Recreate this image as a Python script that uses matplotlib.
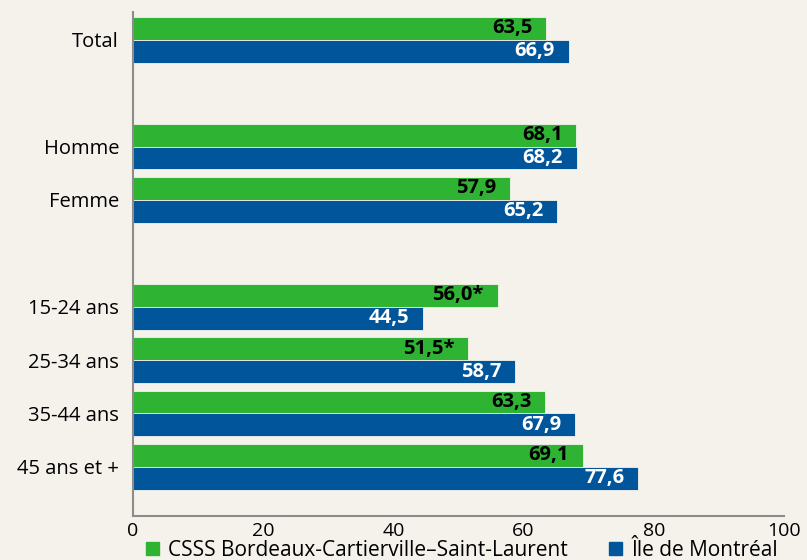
import numpy as np
import matplotlib.pyplot as plt
from matplotlib.patches import Patch

plt.rcParams['font.family'] = ['Open Sans', 'DejaVu Sans']

# data
categories = ['Total', '', 'Homme', 'Femme', '', '15-24 ans', '25-34 ans', '35-44 ans', '45 ans et +']
csss = [63.5, None, 68.1, 57.9, None, 56.0, 51.5, 63.3, 69.1]
mtl = [66.9, None, 68.2, 65.2, None, 44.5, 58.7, 67.9, 77.6]
csss_labels = ['63,5', '', '68,1', '57,9', '', '56,0*', '51,5*', '63,3', '69,1']
mtl_labels = ['66,9', '', '68,2', '65,2', '', '44,5', '58,7', '67,9', '77,6']
series_names = ['CSSS Bordeaux-Cartierville\u2013Saint-Laurent', '\u00cele de Montr\u00e9al']

bg = '#f5f2ec'
green = '#2eb432'
blue = '#00559b'

fig = plt.figure(figsize=(8.07, 5.6), dpi=100, facecolor=bg)
ax = fig.add_axes([133 / 807, 1 - 516 / 560, (784 - 133) / 807, (516 - 12) / 560])
ax.set_facecolor(bg)

y = np.arange(len(categories))
h = 0.43
for i in range(len(categories)):
    if csss[i] is None:
        continue
    b1 = ax.barh(y[i] - h / 2, csss[i], height=h, color=green, edgecolor=bg, linewidth=0.6)
    b2 = ax.barh(y[i] + h / 2, mtl[i], height=h, color=blue, edgecolor=bg, linewidth=0.6)
    ax.bar_label(b1, labels=[csss_labels[i]], label_type='edge', padding=-10, color='black',
                 fontsize=14.5, fontweight='bold')
    ax.bar_label(b2, labels=[mtl_labels[i]], label_type='edge', padding=-10, color='white',
                 fontsize=14.5, fontweight='bold')
for t in ax.texts:
    t.set_horizontalalignment('right')

ax.set_xlim(0, 100)
ax.set_ylim(len(categories) - 1 + 0.92, -0.52)
ax.set_xticks([0, 20, 40, 60, 80, 100])
ax.set_yticks(y)
ax.set_yticklabels(categories)
ax.tick_params(axis='both', length=0, colors='black')
ax.tick_params(axis='x', pad=4, labelsize=14)
ax.tick_params(axis='y', pad=10, labelsize=14.5)
for s in ['top', 'right']:
    ax.spines[s].set_visible(False)
for s in ['left', 'bottom']:
    ax.spines[s].set_color('#8c8c8c')
    ax.spines[s].set_linewidth(1.5)

handles = [Patch(color=green), Patch(color=blue)]
fig.legend(handles, series_names, loc='center left', bbox_to_anchor=(146 / 807, 1 - 550 / 560), ncol=2,
           frameon=False, fontsize=15, handlelength=0.6, handleheight=0.6, borderpad=0,
           borderaxespad=0, handletextpad=0.45, columnspacing=2.0)

fig.savefig('out.png', dpi=100, facecolor=bg)
